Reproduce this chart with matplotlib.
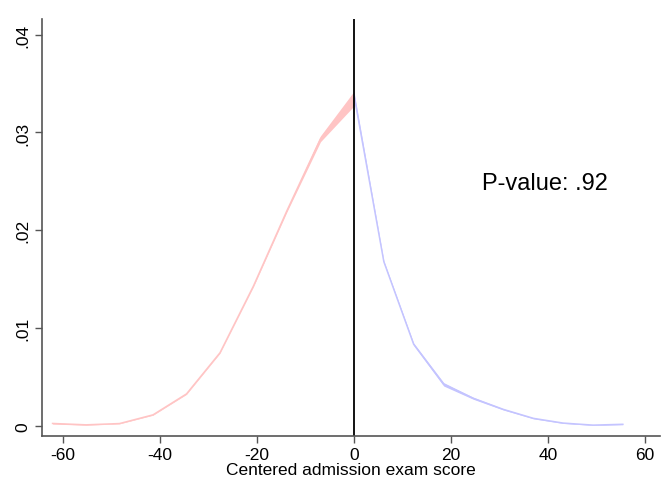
import matplotlib
matplotlib.use("Agg")
import matplotlib.pyplot as plt

plt.rcParams["font.family"] = ["Liberation Sans", "DejaVu Sans"]

# left of cutoff (density estimate, lower / upper band)
x_left = [-62.1, -55.2, -48.3, -41.4, -34.5, -27.6, -20.7, -13.8, -6.9, 0.0]
lo_left = [0.00022, 0.00010, 0.00024, 0.00112, 0.00325, 0.00745, 0.01425, 0.02190, 0.02905, 0.03270]
hi_left = [0.00034, 0.00018, 0.00030, 0.00120, 0.00335, 0.00755, 0.01440, 0.02215, 0.02965, 0.03420]

# right of cutoff
x_right = [0.0, 6.16, 12.3, 18.5, 24.6, 30.8, 37.0, 43.1, 49.3, 55.4]
lo_right = [0.03350, 0.01670, 0.00825, 0.00410, 0.00275, 0.00165, 0.00075, 0.00028, 0.00008, 0.00015]
hi_right = [0.03420, 0.01690, 0.00850, 0.00445, 0.00295, 0.00178, 0.00085, 0.00036, 0.00014, 0.00024]

x_ticks = [-60, -40, -20, 0, 20, 40, 60]
y_ticks = [0, 0.01, 0.02, 0.03, 0.04]
y_labels = ["0", ".01", ".02", ".03", ".04"]

fig = plt.figure(figsize=(6.65, 4.85), dpi=100)
ax = fig.add_axes([0.063, 0.099, 0.929, 0.86])

ax.fill_between(x_left, lo_left, hi_left, color="#ffc4c4", lw=0)
ax.plot(x_left, [(a + b) / 2 for a, b in zip(lo_left, hi_left)], color="#ffc4c4", lw=1.1)
ax.fill_between(x_right, lo_right, hi_right, color="#c4c4ff", lw=0)
ax.plot(x_right, [(a + b) / 2 for a, b in zip(lo_right, hi_right)], color="#c4c4ff", lw=1.1)

ax.axvline(0, color="black", lw=1.3)

ax.text(26.3, 0.0248, "P-value: .92", fontsize=17, va="center", ha="left")

ax.set_xlim(-64.3, 63)
ax.set_ylim(-0.001, 0.0416)
ax.set_xticks(x_ticks)
ax.set_xticklabels([str(t) for t in x_ticks], fontsize=12.5)
ax.set_yticks(y_ticks)
ax.set_yticklabels(y_labels, fontsize=12.5, rotation=90, va="center")
ax.set_xlabel("Centered admission exam score", fontsize=12.5, labelpad=0)

for side in ["top", "right"]:
    ax.spines[side].set_visible(False)
for side in ["left", "bottom"]:
    ax.spines[side].set_color("#555555")
    ax.spines[side].set_linewidth(1.2)
ax.tick_params(direction="out", length=5, width=1, color="#555555", pad=3)

fig.savefig("out.png", dpi=100)
